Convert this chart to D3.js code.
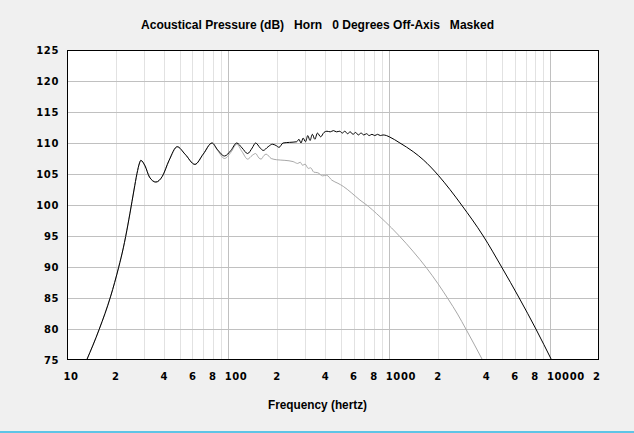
<!DOCTYPE html>
<html><head><meta charset="utf-8">
<script src="https://cdn.jsdelivr.net/npm/d3@7"></script>
<style>
html,body{margin:0;padding:0;background:#f0f0f0;}
svg{display:block;}
</style></head>
<body>
<svg id="c" width="634" height="433"></svg>
<script>
// ---- data ----
const titleText = "Acoustical Pressure (dB)   Horn   0 Degrees Off-Axis   Masked";
const xTitle = "Frequency (hertz)";
const yTicks = [75, 80, 85, 90, 95, 100, 105, 110, 115, 120, 125];
const xTickValues = [10, 20, 40, 60, 80, 100, 200, 400, 600, 800, 1000, 2000, 4000, 6000, 8000, 10000, 20000];
const xTickLabels = ["10", "2", "4", "6", "8", "100", "2", "4", "6", "8", "1000", "2", "4", "6", "8", "10000", "2"];

// black curve (masked response)
const mainFreq = [13.25, 15.86, 18.67, 20.93, 22.36, 23.13, 24.59, 26.04, 27.18, 28.18, 28.7, 30.5, 32.5, 35.6, 39, 43, 48.3, 54, 62.2, 70, 79.4, 86, 95, 104, 113, 122, 132, 141, 148, 158, 165, 177, 188, 198, 207, 219, 240, 266, 275, 283, 292, 302, 312, 322, 333, 345, 358, 375, 393, 410, 430, 450, 470, 493, 510, 530, 550, 572, 595, 618, 642, 668, 695, 722, 750, 780, 812, 845, 880, 915, 960, 1000, 1164, 1407, 1623, 2011, 2377, 2808, 3826, 4975, 6397, 8118, 10160];
const mainDb = [75, 79.98, 85.3, 89.97, 93.08, 94.94, 98.68, 102.42, 105.08, 106.77, 107.2, 106.3, 104.5, 103.7, 104.6, 107.2, 109.4, 108.2, 106.55, 108.2, 110, 108.9, 107.9, 108.8, 110, 109.2, 108.3, 109.2, 110, 109.2, 108.8, 109.4, 109.8, 109.6, 109.3, 110.0, 110.1, 110.2, 110.6, 110.0, 110.8, 110.2, 111.2, 110.4, 111.4, 110.6, 111.6, 111.0, 111.7, 111.9, 111.8, 112.0, 111.8, 111.9, 111.6, 111.9, 111.5, 111.8, 111.4, 111.7, 111.3, 111.6, 111.3, 111.5, 111.2, 111.4, 111.2, 111.4, 111.2, 111.3, 111.2, 111.0, 110, 108.6, 107.3, 104.8, 102.5, 100, 95, 90, 85, 80, 75];

// gray curve (off-axis / unmasked)
const offFreq = [13.25, 15.86, 18.67, 20.93, 22.36, 23.13, 24.59, 26.04, 27.18, 28.18, 28.7, 30.5, 32.5, 35.6, 39, 43, 48.3, 54, 62.2, 70, 79.4, 86, 95, 104, 113, 122, 132, 141, 148, 155, 160, 167, 172, 185, 200, 225, 253, 270, 280, 290, 300, 314, 325, 340, 360, 385, 408, 440, 480, 518, 580, 657, 740, 834, 875, 1033, 1164, 1400, 1712, 2000, 2319, 2650, 2986, 3770];
const offDb = [75, 79.98, 85.3, 89.97, 93.08, 94.94, 98.68, 102.42, 105.08, 106.77, 107.2, 106.3, 104.5, 103.7, 104.6, 107.2, 109.4, 108.2, 106.55, 108.2, 110, 108.8, 107.5, 108.5, 109.8, 108.6, 107.4, 108.0, 108.3, 107.6, 107.4, 108.0, 108.2, 107.5, 107.3, 107.2, 107.0, 106.7, 106.9, 106.4, 106.6, 105.9, 106.0, 105.3, 105.2, 104.7, 104.8, 104.0, 103.5, 103.0, 102.0, 100.8, 99.8, 98.6, 98.1, 96.3, 94.9, 92.56, 89.76, 87.34, 84.82, 82.41, 80.0, 75.1];

// ---- drawing ----
const svg = d3.select("#c");
const L = 67, T = 50, R = 599, B = 360;
const x = d3.scaleLog().domain([10, 20000]).range([L, R]);
const y = d3.scaleLinear().domain([75, 125]).range([B, T]);

svg.append("rect").attr("x", L).attr("y", T).attr("width", R - L).attr("height", B - T).attr("fill", "#fff");

// minor vertical grid
const minor = [], major = [100, 1000, 10000];
[10, 100, 1000, 10000].forEach(d => { for (let k = 2; k <= 9; k++) { const v = k * d; if (v < 20000) minor.push(v); } });
svg.append("g").selectAll("line").data(minor).join("line")
  .attr("x1", d => Math.round(x(d)) + 0.5).attr("x2", d => Math.round(x(d)) + 0.5)
  .attr("y1", T).attr("y2", B).attr("stroke", "#e2e2e2").attr("stroke-width", 1);
svg.append("g").selectAll("line").data(major).join("line")
  .attr("x1", d => Math.round(x(d)) + 0.5).attr("x2", d => Math.round(x(d)) + 0.5)
  .attr("y1", T).attr("y2", B).attr("stroke", "#c0c0c0").attr("stroke-width", 1);
// horizontal grid
svg.append("g").selectAll("line").data(yTicks.filter(v => v > 75 && v < 125)).join("line")
  .attr("x1", L).attr("x2", R)
  .attr("y1", d => Math.round(y(d)) + 0.5).attr("y2", d => Math.round(y(d)) + 0.5)
  .attr("stroke", "#c0c0c0").attr("stroke-width", 1);

// clip
svg.append("clipPath").attr("id", "clip").append("rect")
  .attr("x", L).attr("y", T).attr("width", R - L).attr("height", B - T);

const line = d3.line().x(d => x(d[0])).y(d => y(d[1])).curve(d3.curveMonotoneX);
const offPts = offFreq.map((f, i) => [f, offDb[i]]);
const mainPts = mainFreq.map((f, i) => [f, mainDb[i]]);
svg.append("path").attr("clip-path", "url(#clip)").attr("d", line(offPts))
  .attr("fill", "none").attr("stroke", "#a8a8a8").attr("stroke-width", 1);
svg.append("path").attr("clip-path", "url(#clip)").attr("d", line(mainPts))
  .attr("fill", "none").attr("stroke", "#000").attr("stroke-width", 1);

// border
svg.append("rect").attr("x", L + 0.5).attr("y", T + 0.5).attr("width", R - L - 1).attr("height", B - T - 1)
  .attr("fill", "none").attr("stroke", "#000").attr("stroke-width", 1);

const tickFont = "'DejaVu Sans', Verdana, sans-serif";
// y labels
svg.append("g").selectAll("text").data(yTicks).join("text")
  .attr("x", 59).attr("y", d => y(d) + 4)
  .attr("text-anchor", "end").attr("font-family", tickFont).attr("font-size", 10).attr("font-weight", "bold")
  .attr("letter-spacing", 0.6).attr("fill", "#000").text(d => d);
// x labels
svg.append("g").selectAll("text").data(xTickValues).join("text")
  .attr("x", d => Math.min(x(d) - 3.5, 593)).attr("y", 380)
  .attr("text-anchor", "start").attr("font-family", tickFont).attr("font-size", 10).attr("font-weight", "bold")
  .attr("letter-spacing", 0.6).attr("fill", "#000").text((d, i) => xTickLabels[i]);

// titles
svg.append("text").attr("x", 141).attr("y", 29).attr("font-family", "'Liberation Sans', Arial, sans-serif")
  .attr("font-size", 12).attr("font-weight", "bold").attr("xml:space", "preserve").style("white-space", "pre")
  .attr("textLength", 353).attr("lengthAdjust", "spacingAndGlyphs").attr("fill", "#000").text(titleText);
svg.append("text").attr("x", 268).attr("y", 409).attr("font-family", "'Liberation Sans', Arial, sans-serif")
  .attr("font-size", 12).attr("font-weight", "bold")
  .attr("textLength", 99).attr("lengthAdjust", "spacingAndGlyphs").attr("fill", "#000").text(xTitle);

// bottom accent line
svg.append("rect").attr("x", 0).attr("y", 431).attr("width", 634).attr("height", 2).attr("fill", "#5ec4e6");
</script>
</body></html>
